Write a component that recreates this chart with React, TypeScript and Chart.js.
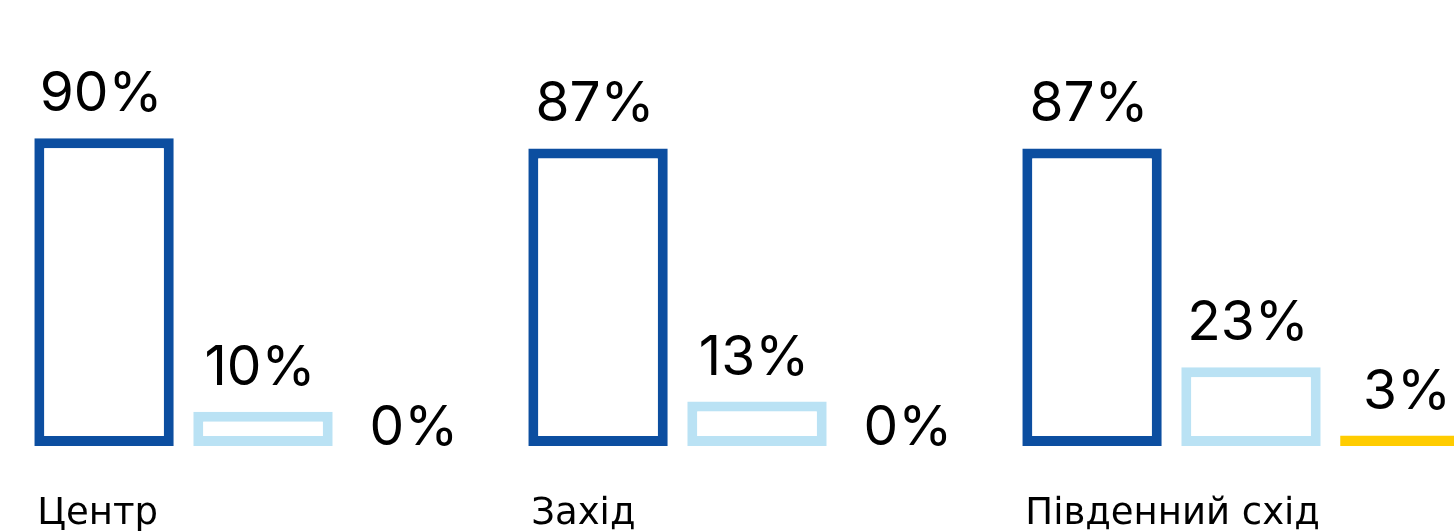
import React, { useEffect, useRef } from "react";
import { Chart, registerables } from "chart.js";

Chart.register(...registerables);

// ---- data ----
const categories = ["Центр", "Захід", "Південний схід"];
const seriesNames = ["Серія 1", "Серія 2", "Серія 3"];
const darkValues = [90, 87, 87];
const lightValues = [10, 13, 23];
const yellowValues = [0, 0, 3];

const DARK = "#0C4EA0";
const LIGHT = "#BAE2F4";
const YELLOW = "#FFCC00";

const labelPlugin = {
  id: "valueAndCategoryLabels",
  afterDatasetsDraw(chart: any) {
    const ctx = chart.ctx;
    ctx.save();
    ctx.fillStyle = "#000";
    ctx.font = '400 55px Inter';
    ctx.textAlign = "center";
    ctx.textBaseline = "alphabetic";
    chart.data.datasets.forEach((ds: any, di: number) => {
      const meta = chart.getDatasetMeta(di);
      meta.data.forEach((bar: any, i: number) => {
        const p = bar.getProps(["x", "y", "base", "width"], true);
        const v = ds.data[i];
        const y = v === 0 ? p.base - 1 : p.y - 27;
        const dx = v === 0 ? -8 : -3;
        ctx.fillText(`${v}%`, p.x + dx, y);
      });
    });
    ctx.font = '37px "DejaVu Sans"';
    ctx.textAlign = "left";
    const meta0 = chart.getDatasetMeta(0);
    meta0.data.forEach((bar: any, i: number) => {
      const p = bar.getProps(["x", "width"], true);
      ctx.fillText(categories[i], p.x - p.width / 2 + 3, chart.chartArea.bottom + 78);
    });
    ctx.restore();
  },
};

export default function App() {
  const ref = useRef<HTMLCanvasElement | null>(null);
  useEffect(() => {
    if (!ref.current) return;
    const chart = new Chart(ref.current, {
      type: "bar",
      data: {
        labels: categories,
        datasets: [
          {
            label: seriesNames[0],
            data: darkValues,
            backgroundColor: "#ffffff",
            borderColor: DARK,
            borderWidth: 10,
            borderSkipped: false,
          },
          {
            label: seriesNames[1],
            data: lightValues,
            backgroundColor: "#ffffff",
            borderColor: LIGHT,
            borderWidth: 10,
            borderSkipped: false,
          },
          {
            label: seriesNames[2],
            data: yellowValues,
            backgroundColor: YELLOW,
            borderWidth: 0,
          },
        ],
      },
      options: {
        animation: false,
        responsive: false,
        layout: { padding: { left: 16, right: 2, top: 104, bottom: 94 } },
        datasets: { bar: { categoryPercentage: 0.9654, barPercentage: 0.877 } } as any,
        scales: {
          x: { display: false, offset: true, grid: { display: false } },
          y: { display: false, min: 0, max: 100, grid: { display: false } },
        },
        plugins: {
          legend: { display: false },
          tooltip: { enabled: false },
        },
      },
      plugins: [labelPlugin],
    });
    return () => chart.destroy();
  }, []);

  return (
    <div
      style={{
        position: "absolute",
        left: 0,
        top: 0,
        width: 1454,
        height: 531,
        overflow: "hidden",
        background: "#fff",
      }}
    >
      <canvas ref={ref} width={1500} height={540} style={{ display: "block" }} />
    </div>
  );
}
